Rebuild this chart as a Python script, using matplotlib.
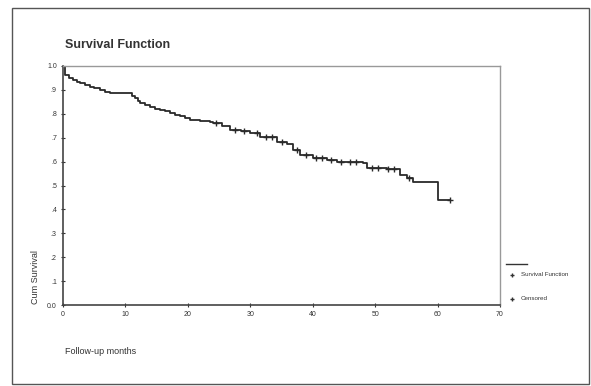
import matplotlib
matplotlib.use("Agg")
import matplotlib.pyplot as plt
from matplotlib.patches import Rectangle
from matplotlib.lines import Line2D

# Kaplan-Meier step curve (time in months, cumulative survival)
event_times = [0, 0.3, 1.0, 1.6, 2.2, 2.7, 3.5, 4.3, 5.0, 5.9, 6.7, 7.5, 11.1, 11.6,
               12.0, 12.3, 13.1, 13.9, 14.7, 15.5, 16.3, 17.1, 18.0, 18.8, 19.6,
               20.4, 22.0, 23.6, 24.0, 25.5, 26.8, 28.5, 30.0, 31.6, 34.3, 35.9,
               36.9, 38.0, 40.0, 42.3, 43.9, 48.0, 48.7, 51.9, 54.0, 55.1, 56.1,
               60.1, 62.0]
survival = [1.0, 0.962, 0.950, 0.941, 0.935, 0.929, 0.920, 0.912, 0.906, 0.900, 0.893,
            0.887, 0.875, 0.866, 0.855, 0.845, 0.836, 0.828, 0.822, 0.816, 0.810,
            0.803, 0.797, 0.791, 0.782, 0.774, 0.770, 0.766, 0.762, 0.748, 0.732,
            0.726, 0.720, 0.703, 0.682, 0.672, 0.649, 0.628, 0.615, 0.607, 0.598,
            0.594, 0.573, 0.569, 0.544, 0.531, 0.515, 0.440, 0.440]
censor_times = [24.5, 27.5, 29, 31, 32.5, 33.5, 35, 37.5, 39, 40.5, 41.5, 43,
                44.5, 46, 47, 49.5, 50.5, 52, 53, 55.5, 62]

x_ticks = [0, 10, 20, 30, 40, 50, 60, 70]
y_ticks = [1.0, 0.9, 0.8, 0.7, 0.6, 0.5, 0.4, 0.3, 0.2, 0.1, 0.0]
y_tick_labels = ["1.0", ".9", ".8", ".7", ".6", ".5", ".4", ".3", ".2", ".1", "0.0"]

def surv_at(t):
    s = survival[0]
    for et, sv in zip(event_times, survival):
        if et <= t:
            s = sv
    return s

censor_vals = [surv_at(t) for t in censor_times]

plt.rcParams['font.family'] = ['Liberation Sans', 'DejaVu Sans']
W, H = 591, 386
fig = plt.figure(figsize=(W / 100, H / 100), dpi=100)

# outer border of the output frame
fig.patches.append(Rectangle((12 / W, 1 - 384 / H), (589 - 12) / W, (384 - 8) / H,
                             transform=fig.transFigure, fill=False,
                             edgecolor="#555555", linewidth=1.0))

ax = fig.add_axes([63 / W, 1 - 305 / H, (500 - 63) / W, (305 - 66) / H])
ax.step(event_times, survival, where="post", color="#2a2a2a", lw=1.3)
ax.plot(censor_times, censor_vals, linestyle="none", marker="+", color="#2a2a2a",
        markersize=4, mew=1.0)

ax.set_xlim(0, 70)
ax.set_ylim(0, 1.0)
ax.set_xticks(x_ticks)
ax.set_xticklabels([str(v) for v in x_ticks])
ax.set_yticks(y_ticks)
ax.set_yticklabels(y_tick_labels)
ax.tick_params(axis="both", labelsize=5, direction="inout", length=3, width=0.8,
               colors="#333333", pad=3)
for side in ["top", "right"]:
    ax.spines[side].set_color("#999999")
    ax.spines[side].set_linewidth(1.0)
for side in ["left", "bottom"]:
    ax.spines[side].set_color("#444444")
    ax.spines[side].set_linewidth(1.2)

fig.text(65 / W, 1 - 45 / H, "Survival Function", fontsize=9, fontweight="bold",
         color="#333333", ha="left", va="center")
fig.text(65 / W, 1 - 352 / H, "Follow-up months", fontsize=6.5, color="#333333",
         ha="left", va="center")
fig.text(36 / W, 1 - 304 / H, "Cum Survival", fontsize=6.5, color="#333333",
         rotation=90, ha="center", va="bottom")

# legend (drawn as in the reference)
fig.add_artist(Line2D([506 / W, 527 / W], [1 - 264 / H, 1 - 264 / H],
                      transform=fig.transFigure, color="#333333", lw=1.0))
fig.add_artist(Line2D([512 / W], [1 - 275 / H], transform=fig.transFigure,
                      marker="+", markersize=3.5, color="#333333", linestyle="none"))
fig.text(521 / W, 1 - 275 / H, "Survival Function", fontsize=4.5, color="#333333",
         ha="left", va="center")
fig.add_artist(Line2D([512 / W], [1 - 299 / H], transform=fig.transFigure,
                      marker="+", markersize=3.5, color="#333333", linestyle="none"))
fig.text(521 / W, 1 - 299 / H, "Censored", fontsize=4.5, color="#333333",
         ha="left", va="center")

fig.savefig("out.png", dpi=100)
